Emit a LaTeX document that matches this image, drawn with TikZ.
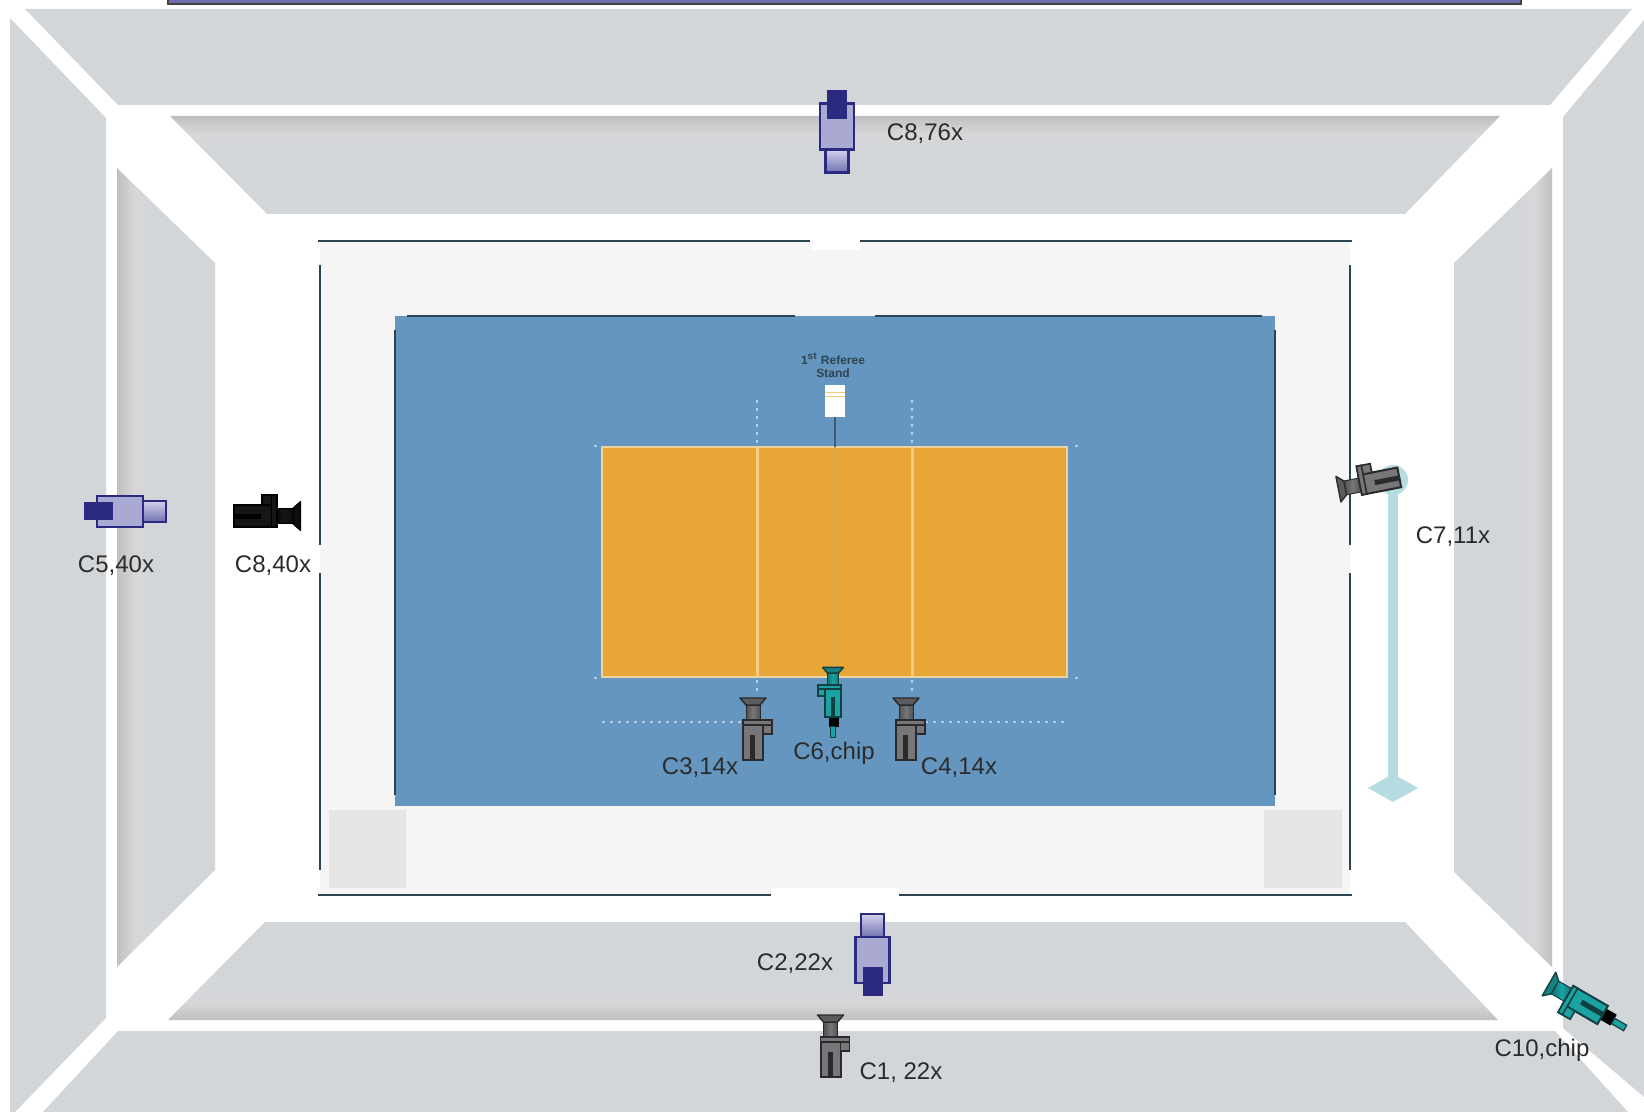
\documentclass[tikz,border=0pt]{standalone}
\usepackage{fontspec}
\setmainfont{Liberation Sans}
\usepackage{xcolor}
\definecolor{panelgrey}{HTML}{D3D6D9}
\definecolor{paneldark}{HTML}{C0BFC2}
\definecolor{panelmid}{HTML}{D8D6D9}
\definecolor{floorgrey}{HTML}{F5F5F5}
\definecolor{cornergrey}{HTML}{E6E6E6}
\definecolor{courtblue}{HTML}{6496C0}
\definecolor{courtorange}{HTML}{E8A636}
\definecolor{courtline}{HTML}{F6CC80}
\definecolor{courtedge}{HTML}{EDD3A0}
\definecolor{dotblue}{HTML}{B0CEE8}
\definecolor{edgeline}{HTML}{2E4350}
\definecolor{trackblue}{HTML}{B5DCE0}
\definecolor{labelgrey}{HTML}{2B2B2B}
\definecolor{camgrey}{HTML}{77777A}
\definecolor{camdark}{HTML}{2A2A2C}
\definecolor{camblack}{HTML}{161616}
\definecolor{camteal}{HTML}{1BA3A3}
\definecolor{tealdark}{HTML}{123F42}
\definecolor{boxbody}{HTML}{A9A9D2}
\definecolor{boxedge}{HTML}{2A2A80}
\definecolor{boxpale}{HTML}{D2D2EC}
\definecolor{boxtail}{HTML}{7272B2}
\definecolor{barpurple}{HTML}{6F6FB0}
\pgfdeclareverticalshading{panelfade}{100bp}{color(0bp)=(panelgrey); color(58bp)=(panelgrey); color(66bp)=(panelmid); color(75bp)=(paneldark); color(100bp)=(paneldark)}
\newcommand{\camparts}[2]{
    \fill[#1!65!#2, draw=#2, line width=0.7pt, line join=round] (-13,-22) -- (13,-22) -- (7,-15) -- (-7,-15) -- cycle;
    \shade[left color=#1!50!#2, right color=#1!50!#2, middle color=#1, draw=#2, line width=0.5pt] (-7,-15) rectangle (7,0);
    \filldraw[fill=#1, draw=#2, line width=1pt] (-10,0) rectangle (10,40);
    \filldraw[fill=#1, draw=#2, line width=0.8pt] (10,0) rectangle (19,14);
    \filldraw[fill=#1, draw=#2, line width=0.8pt] (-10,0) rectangle (19,5);
    \fill[#2] (-3,15) rectangle (2,40);
}
\tikzset{
    pics/camera/.style 2 args={code={\camparts{#1}{#2}}},
    pics/chipcamera/.style={code={
        \fill[black] (-7,38) rectangle (5,52);
        \filldraw[fill=camteal, draw=tealdark, line width=0.6pt] (-3,52) rectangle (3,66);
        \camparts{camteal}{tealdark}
    }},
    pics/boxcamera/.style={code={
        \shade[top color=boxpale, bottom color=boxtail, draw=boxedge, line width=1.2pt] (-11.5,23) rectangle (11.5,46);
        \filldraw[fill=boxbody, draw=boxedge, line width=1.3pt] (-17,-23) rectangle (17,23);
        \fill[boxedge] (-10,-36) rectangle (10,-7);
    }}
}
\begin{document}
\begin{tikzpicture}[
    x=0.5pt, y=-0.5pt,
    panel/.style={shading=panelfade},
    outerpanel/.style={fill=panelgrey},
    edge/.style={draw=edgeline, line width=1pt},
    fieldline/.style={draw=courtline, line width=1.5pt},
    dotline/.style={draw=dotblue, line width=1.2pt, dash pattern=on 1.5pt off 2.5pt},
    camtext/.style={font=\fontsize{12}{14}\selectfont, text=labelgrey, inner sep=0pt},
    standtext/.style={font=\bfseries\fontsize{6}{6.4}\selectfont, text=edgeline, align=center, inner sep=0pt}
]
\clip (0,0) rectangle (1644,1112);
\fill[white] (0,0) rectangle (1644,1112);
\filldraw[fill=barpurple, draw=black!75, line width=1pt] (168,-6) rectangle (1521,4);

\fill[outerpanel] (25,9) -- (1632,9) -- (1550,105) -- (118,105) -- cycle;
\fill[outerpanel] (10,18) -- (106,118) -- (106,1018) -- (15,1112) -- (10,1112) -- cycle;
\fill[outerpanel] (1644,20) -- (1563,117) -- (1563,1028) -- (1644,1097) -- cycle;
\fill[outerpanel] (118,1031) -- (1555,1031) -- (1628,1112) -- (43,1112) -- cycle;

\shade[panel, shading angle=0] (170,116) -- (1500,116) -- (1405,214) -- (267,214) -- cycle;
\shade[panel, shading angle=180] (265,922) -- (1405,922) -- (1498,1020) -- (168,1020) -- cycle;
\shade[panel, shading angle=90] (117,168) -- (215,263) -- (215,870) -- (117,967) -- cycle;
\shade[panel, shading angle=270] (1552,168) -- (1454,263) -- (1454,872) -- (1552,967) -- cycle;

\fill[floorgrey] (320,241) rectangle (1350,895);
\fill[white] (810,236) rectangle (860,250);
\fill[white] (771,888) rectangle (899,900);
\fill[cornergrey] (329,810) rectangle (406,888);
\fill[cornergrey] (1264,810) rectangle (1342,888);

\draw[edge] (318,241) -- (810,241);
\draw[edge] (860,241) -- (1352,241);
\draw[edge] (318,895) -- (771,895);
\draw[edge] (899,895) -- (1352,895);
\foreach \wallx in {320,1350} {
    \draw[edge] (\wallx,265) -- (\wallx,545);
    \draw[edge] (\wallx,573) -- (\wallx,870);
}

\fill[courtblue] (395,316) rectangle (1275,806);
\draw[edge] (407,316) -- (795,316);
\draw[edge] (875,316) -- (1262,316);
\foreach \sidex in {395,1275} {
    \draw[edge] (\sidex,330) -- (\sidex,795);
}

\fill[courtorange] (602,447) rectangle (1067,677);
\draw[draw=courtedge, line width=1.2pt] (602,447) rectangle (1067,677);
\foreach \linex in {757,912} {
    \draw[fieldline] (\linex,447) -- (\linex,677);
    \draw[dotline] (\linex,400) -- (\linex,447);
    \draw[dotline] (\linex,680) -- (\linex,695);
}
\draw[draw=courtline!60!courtorange!90!black, line width=0.6pt] (835,447) -- (835,677);
\draw[draw=edgeline!70!courtblue, line width=0.6pt] (835,417) -- (835,447);
\draw[dotline] (602,722) -- (745,722);
\draw[dotline] (925,722) -- (1067,722);
\foreach \cornerx/\cornery/\stepx/\stepy in {602/447/-8/-1,1067/447/8/-1,602/677/-8/1,1067/677/8/1} {
    \draw[dotline] (\cornerx,\cornery) ++(\stepx,\stepy) -- ++(3,0);
}

\fill[white] (825,385) rectangle (845,417);
\draw[draw=courtline, line width=0.4pt] (825,392) -- (845,392) (825,396) -- (845,396);
\node[standtext] (stand) at (833,365) {1\textsuperscript{st} Referee\\Stand};

\fill[trackblue] (1388,480) rectangle (1398,780);
\fill[trackblue] (1393,480) circle[radius=15];
\fill[trackblue] (1368,788) -- (1393,774) -- (1418,788) -- (1393,802) -- cycle;

\pic (camone) at (830.5,1037) {camera={camgrey}{camdark}};
\pic (camthree) at (753,720) {camera={camgrey}{camdark}};
\pic (camfour) at (906,720) {camera={camgrey}{camdark}};
\pic[rotate=101] (camseven) at (1360,485) {camera={camgrey}{camdark}};
\pic[rotate=-90,xscale=-1.1,yscale=1.07] (cameight) at (277,516) {camera={camblack}{black}};
\pic[xscale=-0.8,yscale=0.8] (camsix) at (833,685) {chipcamera};
\pic[rotate=60,xscale=-1.05] (camten) at (1568,995) {chipcamera};
\pic (camtop) at (837,126.5) {boxcamera};
\pic[rotate=180] (camtwo) at (872.5,960) {boxcamera};
\pic[rotate=90,xscale=0.9] (camfive) at (120,511.5) {boxcamera};

\node[camtext] (ctop) at (925,134) {C8,76x};
\node[camtext] (cfive) at (116,566) {C5,40x};
\node[camtext] (ceight) at (273,566) {C8,40x};
\node[camtext] (cseven) at (1453,537) {C7,11x};
\node[camtext] (cthree) at (700,768) {C3,14x};
\node[camtext] (csix) at (834,753) {C6,chip};
\node[camtext] (cfour) at (959,768) {C4,14x};
\node[camtext] (ctwo) at (795,964) {C2,22x};
\node[camtext] (cone) at (901,1073) {C1, 22x};
\node[camtext] (cten) at (1542,1050) {C10,chip};
\end{tikzpicture}
\end{document}
